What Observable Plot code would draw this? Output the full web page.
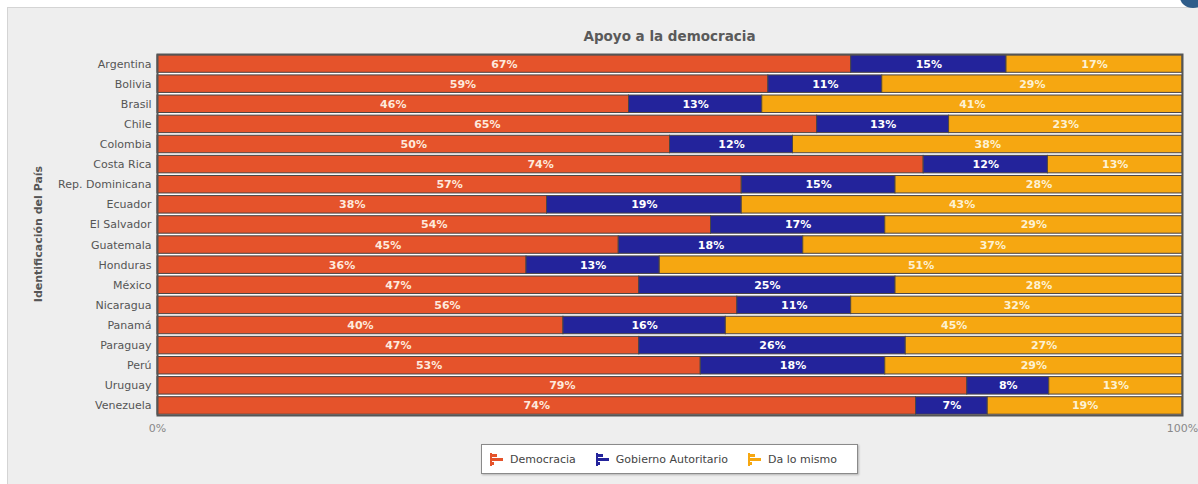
<!DOCTYPE html>
<html>
<head>
<meta charset="utf-8">
<script src="https://cdn.jsdelivr.net/npm/d3@7"></script>
<script src="https://cdn.jsdelivr.net/npm/@observablehq/plot@0.6"></script>
<style>
  html, body { margin: 0; padding: 0; background: #fff; width: 1198px; height: 484px; overflow: hidden; font-family: "DejaVu Sans", Verdana, sans-serif; }
  #panel { position: absolute; left: 7px; top: 7px; width: 1200px; height: 490px; background: #eeeeee; border-top: 1px solid #d4d4d4; border-left: 1px solid #d4d4d4; }
  #corner { position: absolute; left: 1180px; top: -14px; width: 26px; height: 22px; border-radius: 50%; background: #2f5d8a; }
  #chart { position: absolute; left: 0; top: 0; }
  #title { position: absolute; left: 157px; width: 1025px; top: 28px; text-align: center; font-weight: bold; font-size: 13.5px; color: #5a5a5a; }
  #ytitle { position: absolute; left: 38px; top: 234px; transform: translate(-50%, -50%) rotate(-90deg); white-space: nowrap; font-weight: bold; font-size: 11px; color: #555; }
  #legend { position: absolute; left: 481px; top: 444px; width: 377px; height: 30px; background: #fff; border: 1px solid #8a8a8a; box-shadow: 1px 1px 2px rgba(0,0,0,0.25); display: flex; align-items: center; font-size: 11px; color: #444; box-sizing: border-box; padding-left: 8px; }
  .item { display: flex; align-items: center; margin-right: 20px; }
  .item svg { margin-right: 6px; }
</style>
</head>
<body>
<div id="panel"></div>
<div id="corner"></div>
<div id="chart"></div>
<div id="title">Apoyo a la democracia</div>
<div id="ytitle">Identificación del País</div>
<div id="legend"></div>
<script>
const countries = ["Argentina","Bolivia","Brasil","Chile","Colombia","Costa Rica","Rep. Dominicana","Ecuador","El Salvador","Guatemala","Honduras","México","Nicaragua","Panamá","Paraguay","Perú","Uruguay","Venezuela"];
const democracia = [67,59,46,65,50,74,57,38,54,45,36,47,56,40,47,53,79,74];
const autoritario = [15,11,13,13,12,12,15,19,17,18,13,25,11,16,26,18,8,7];
const daLoMismo = [17,29,41,23,38,13,28,43,29,37,51,28,32,45,27,29,13,19];
const seriesNames = ["Democracia","Gobierno Autoritario","Da lo mismo"];
const seriesColors = ["#e5532b","#23239b","#f6a711"];
const textColors = ["#fde9dc","#ffffff","#fdf1d2"];
const xTicks = [0, 1];
const xTickLabels = ["0%", "100%"];

const seriesValues = [democracia, autoritario, daLoMismo];
const rows = [];
seriesNames.forEach((s, si) => {
  countries.forEach((c, ci) => {
    rows.push({country: c, series: s, value: seriesValues[si][ci], tcolor: textColors[si]});
  });
});

const stackOpts = {x: "value", y: "country", z: "series", offset: "normalize", order: seriesNames};

const chart = Plot.plot({
  width: 1198,
  height: 440,
  marginLeft: 157,
  marginRight: 16,
  marginTop: 54,
  marginBottom: 25,
  style: {background: "transparent", fontFamily: "DejaVu Sans, Verdana, sans-serif", fontSize: "11px", color: "#555"},
  x: {domain: [0, 1], axis: null},
  y: {domain: countries, paddingInner: 0.13, paddingOuter: 0.04, round: false, axis: null},
  color: {domain: seriesNames, range: seriesColors},
  marks: [
    Plot.frame({fill: "#ffffff"}),
    Plot.barX(rows, Plot.stackX({...stackOpts, fill: "series", stroke: "#4b4444", strokeWidth: 1})),
    Plot.text(rows, Plot.stackX({...stackOpts, text: d => d.value + "%", fill: "tcolor", fontWeight: 600, fontSize: 11})),
    Plot.frame({stroke: "#555", strokeWidth: 2}),
    Plot.axisY({tickSize: 0, tickPadding: 6, label: null, fill: "#555", fontSize: 11}),
    Plot.axisX({ticks: xTicks, tickFormat: (d, i) => xTickLabels[i], tickSize: 0, tickPadding: 9, label: null, fill: "#888", fontSize: 11})
  ]
});
document.getElementById("chart").appendChild(chart);

const legend = document.getElementById("legend");
seriesNames.forEach((s, i) => {
  const item = document.createElement("div");
  item.className = "item";
  item.innerHTML = `<svg width="14" height="13" viewBox="0 0 14 13"><rect x="0" y="0" width="2" height="13" fill="${seriesColors[i]}"/><rect x="0" y="1" width="7" height="3" fill="${seriesColors[i]}"/><rect x="0" y="5" width="13" height="3" fill="${seriesColors[i]}"/><rect x="0" y="9" width="4" height="3" fill="${seriesColors[i]}"/></svg><span>${s}</span>`;
  legend.appendChild(item);
});
</script>
</body>
</html>
